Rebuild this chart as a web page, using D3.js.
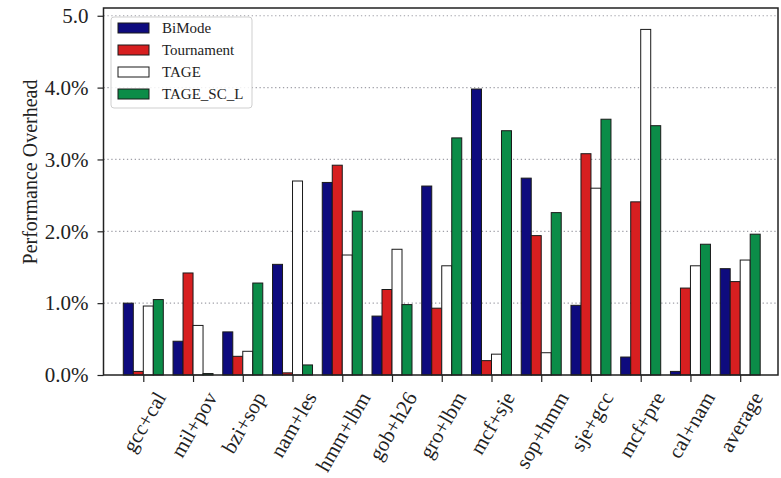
<!DOCTYPE html>
<html>
<head>
<meta charset="utf-8">
<script src="https://cdn.jsdelivr.net/npm/d3@7"></script>
<style>
  body { margin: 0; background: #fff; }
  svg text { font-family: "Liberation Serif", "DejaVu Serif", serif; fill: #222; }
</style>
</head>
<body>
<div id="chart"></div>
<script>
// Data
const categories = ["gcc+cal", "mil+pov", "bzi+sop", "nam+les", "hmm+lbm", "gob+h26", "gro+lbm",
                    "mcf+sje", "sop+hmm", "sje+gcc", "mcf+pre", "cal+nam", "average"];
const seriesNames = ["BiMode", "Tournament", "TAGE", "TAGE_SC_L"];
const biMode     = [1.00, 0.47, 0.60, 1.54, 2.68, 0.82, 2.63, 3.98, 2.74, 0.97, 0.25, 0.05, 1.48];
const tournament = [0.05, 1.42, 0.26, 0.03, 2.92, 1.19, 0.93, 0.20, 1.94, 3.08, 2.41, 1.21, 1.30];
const tage       = [0.96, 0.69, 0.33, 2.70, 1.67, 1.75, 1.52, 0.29, 0.31, 2.60, 4.81, 1.52, 1.60];
const tageScL    = [1.05, 0.02, 1.28, 0.14, 2.28, 0.98, 3.30, 3.40, 2.26, 3.56, 3.47, 1.82, 1.96];
const yTicks = [0, 1, 2, 3, 4, 5];
const yTickLabels = ["0.0%", "1.0%", "2.0%", "3.0%", "4.0%", "5.0"];

const seriesValues = [biMode, tournament, tage, tageScL];
const colors = ["#0e0b7e", "#d71f20", "#ffffff", "#0b8c48"];

const width = 781, height = 478;
const plot = { left: 103.5, right: 778, top: 8, bottom: 375 };

const svg = d3.select("#chart").append("svg")
    .attr("width", width)
    .attr("height", height);

// scales
const x = d3.scaleLinear().domain([-0.8, 12.76]).range([plot.left, plot.right]);
const xSub = d3.scaleBand().domain(seriesNames).range([-20, 20]);
const y = d3.scaleLinear().domain([0, 5.108]).range([plot.bottom, plot.top]);

// grid lines (dotted)
svg.append("g")
    .selectAll("line")
    .data(yTicks.filter(d => d > 0))
    .join("line")
    .attr("x1", plot.left).attr("x2", plot.right)
    .attr("y1", d => y(d)).attr("y2", d => y(d))
    .attr("stroke", "#a0a0a8")
    .attr("stroke-width", 1.2)
    .attr("stroke-dasharray", "1.3,2.6");

// bars
const rows = [];
categories.forEach((c, i) => {
    seriesNames.forEach((s, j) => rows.push({ i, s, j, v: seriesValues[j][i] }));
});
svg.append("g")
    .selectAll("rect")
    .data(rows)
    .join("rect")
    .attr("x", d => x(d.i) + xSub(d.s))
    .attr("width", xSub.bandwidth())
    .attr("y", d => y(d.v))
    .attr("height", d => y(0) - y(d.v))
    .attr("fill", d => colors[d.j])
    .attr("stroke", "#1a1a1a")
    .attr("stroke-width", 1);

// y axis
const yAxis = svg.append("g")
    .attr("transform", `translate(${plot.left},0)`)
    .call(d3.axisLeft(y).tickValues(yTicks).tickFormat((d, i) => yTickLabels[i]).tickSize(6).tickPadding(9));
yAxis.select(".domain").remove();
yAxis.selectAll("line").attr("stroke", "#222").attr("stroke-width", 1.2);
yAxis.selectAll("text")
    .attr("font-family", "Liberation Serif, serif")
    .attr("font-size", 21)
    .attr("fill", "#222");

// x axis ticks
const xAxis = svg.append("g")
    .attr("transform", `translate(0,${plot.bottom})`)
    .call(d3.axisBottom(x).tickValues(d3.range(categories.length)).tickFormat(() => "").tickSize(7));
xAxis.select(".domain").remove();
xAxis.selectAll("line").attr("stroke", "#222").attr("stroke-width", 1.2);

// rotated category labels, bbox centred under each tick
const fs = 21, ang = 60 * Math.PI / 180;
svg.append("g")
    .selectAll("text")
    .data(categories)
    .join("text")
    .attr("font-size", fs)
    .attr("text-anchor", "middle")
    .attr("dominant-baseline", "central")
    .text(d => d)
    .each(function(d, i) {
        const L = this.getComputedTextLength();
        const H = L * Math.sin(ang) + fs * 0.9 * Math.cos(ang);
        d3.select(this).attr("transform",
            `translate(${x(i) + 1},${389 + H / 2}) rotate(-60)`);
    });

// frame
svg.append("rect")
    .attr("x", plot.left).attr("y", plot.top)
    .attr("width", plot.right - plot.left).attr("height", plot.bottom - plot.top)
    .attr("fill", "none")
    .attr("stroke", "#222")
    .attr("stroke-width", 1.5);

// y label
svg.append("text")
    .attr("transform", "translate(30,172) rotate(-90)")
    .attr("text-anchor", "middle")
    .attr("dominant-baseline", "central")
    .attr("font-size", 20)
    .text("Performance Overhead");

// legend
const legend = svg.append("g").attr("transform", "translate(111,17)");
legend.append("rect")
    .attr("width", 141).attr("height", 91)
    .attr("rx", 3)
    .attr("fill", "#fff")
    .attr("fill-opacity", 0.85)
    .attr("stroke", "#cfcfcf");
seriesNames.forEach((s, j) => {
    const g = legend.append("g").attr("transform", `translate(7,${11 + j * 22})`);
    g.append("rect")
        .attr("x", 0).attr("y", -5)
        .attr("width", 31).attr("height", 10)
        .attr("fill", colors[j])
        .attr("stroke", "#1a1a1a")
        .attr("stroke-width", 1);
    g.append("text")
        .attr("x", 44).attr("y", 0)
        .attr("dominant-baseline", "central")
        .attr("font-size", 15)
        .text(s);
});
</script>
</body>
</html>
